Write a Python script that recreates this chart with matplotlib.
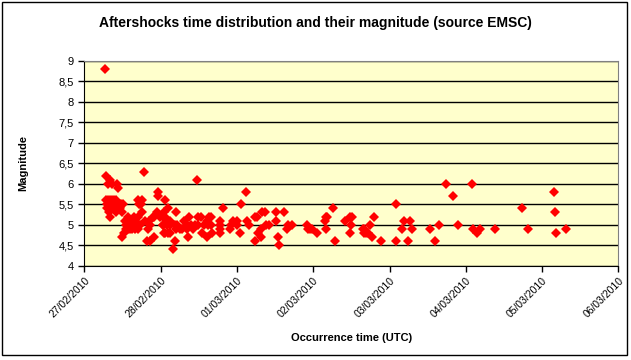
import numpy as np
import matplotlib
matplotlib.use("Agg")
import matplotlib.pyplot as plt
from matplotlib.patches import Rectangle

plt.rcParams['font.family'] = ['Liberation Sans', 'DejaVu Sans']

# days since 27/02/2010 00:00 UTC
day = [0.27, 0.284, 0.307, 0.337, 0.359, 0.425, 0.438,
       0.29, 0.30, 0.30, 0.31, 0.32, 0.33, 0.34, 0.35, 0.36, 0.37, 0.38, 0.39, 0.40,
       0.41, 0.42, 0.43, 0.446, 0.46, 0.468, 0.481, 0.49, 0.337, 0.45, 0.32,
       0.49, 0.524, 0.51,
       0.533, 0.56, 0.54, 0.55, 0.577, 0.585, 0.60, 0.621, 0.63, 0.65, 0.67, 0.68,
       0.70, 0.70, 0.73, 0.60, 0.57, 0.64, 0.66,
       0.708, 0.72, 0.73, 0.752, 0.74, 0.752,
       0.786, 0.796, 0.818, 0.861, 0.917, 0.835, 0.861, 0.85, 0.904, 0.91,
       0.957, 0.962, 0.962, 0.992, 1.031, 1.035, 1.058, 1.101, 1.04, 1.058,
       1.10, 1.123, 1.031, 1.04, 1.06, 1.08, 1.10, 1.123, 1.123,
       1.166, 1.189, 1.189, 1.20, 1.202, 1.22, 1.25, 1.277, 1.307,
       1.342, 1.342, 1.363, 1.376, 1.40, 1.42, 1.451, 1.473,
       1.49, 1.49, 1.526, 1.539, 1.569, 1.604, 1.604, 1.621, 1.634, 1.657, 1.657, 1.67,
       1.778, 1.778, 1.778, 1.778, 1.822, 1.91, 1.923, 1.953, 1.997, 1.997,
       2.041, 2.05, 2.115, 2.128, 2.159, 2.237, 2.26, 2.237, 2.273, 2.312, 2.316,
       2.325, 2.368, 2.377, 2.421, 2.512, 2.512, 2.535, 2.552, 2.613, 2.653, 2.674, 2.718,
       2.915, 2.936, 2.958, 2.98, 3.046, 3.155, 3.17, 3.185, 3.168, 3.256, 3.286,
       3.417, 3.482, 3.505, 3.491, 3.482, 3.649, 3.666, 3.666, 3.692, 3.722,
       3.743, 3.767, 3.796, 3.885, 4.081, 4.081, 4.16, 4.19, 4.269, 4.238, 4.299,
       4.531, 4.596, 4.645, 4.74, 4.828, 4.894, 5.085, 5.09, 5.143, 5.186,
       5.383, 5.733, 5.811, 6.156, 6.169, 6.178, 6.313]

magnitude = [8.8, 6.2, 6.0, 6.1, 6.0, 6.0, 5.9,
             5.6, 5.5, 5.4, 5.6, 5.5, 5.4, 5.6, 5.5, 5.6, 5.4, 5.5, 5.6, 5.5,
             5.3, 5.6, 5.5, 5.5, 5.4, 5.4, 5.5, 5.3, 5.2, 5.4, 5.3,
             4.7, 4.8, 5.5,
             5.1, 5.0, 5.0, 4.9, 5.2, 5.1, 4.9, 5.0, 4.9, 5.2, 5.1, 5.0,
             4.9, 5.2, 5.0, 5.0, 4.9, 5.0, 4.9,
             5.6, 5.5, 5.5, 5.6, 5.5, 5.3,
             6.3, 5.1, 4.6, 4.6, 4.7, 4.9, 5.0, 5.1, 5.2, 5.2,
             5.3, 5.8, 5.7, 5.2, 5.2, 5.0, 5.6, 5.4, 5.3, 5.2,
             5.1, 5.1, 5.0, 4.8, 4.8, 5.0, 4.8, 5.0, 4.8,
             4.4, 4.6, 5.0, 4.9, 5.3, 5.0, 4.9, 4.9, 5.1,
             5.0, 4.9, 4.7, 5.2, 5.0, 4.9, 5.0, 6.1,
             5.2, 5.0, 5.2, 4.8, 5.0, 5.1, 4.7, 5.0, 5.2, 5.2, 5.0, 4.8,
             5.1, 5.0, 4.9, 4.8, 5.4, 4.9, 5.0, 5.1, 5.1, 5.0,
             4.8, 5.5, 5.8, 5.1, 5.0, 5.2, 5.2, 4.6, 4.8, 4.7, 4.9,
             5.3, 5.3, 5.0, 5.0, 5.3, 5.1, 4.7, 4.5, 5.3, 4.9, 5.0, 5.0,
             5.0, 4.9, 4.9, 4.9, 4.8, 5.1, 5.2, 5.2, 4.9, 5.4, 4.6,
             5.1, 5.2, 5.2, 5.0, 4.8, 4.9, 4.9, 4.8, 4.8, 4.8,
             5.0, 4.7, 5.2, 4.6, 5.5, 4.6, 4.9, 5.1, 5.1, 4.6, 4.9,
             4.9, 4.6, 5.0, 6.0, 5.7, 5.0, 6.0, 4.9, 4.8, 4.9,
             4.9, 5.4, 4.9, 5.8, 5.3, 4.8, 4.9]

date_labels = ["27/02/2010", "28/02/2010", "01/03/2010", "02/03/2010",
               "03/03/2010", "04/03/2010", "05/03/2010", "06/03/2010"]
y_ticks = [4, 4.5, 5, 5.5, 6, 6.5, 7, 7.5, 8, 8.5, 9]

fig = plt.figure(figsize=(6.31, 3.60), dpi=100)
ax = fig.add_axes([84.3 / 631, 1 - 265.7 / 360, (618.4 - 84.3) / 631, (265.7 - 61) / 360])
ax.set_facecolor("#FFFFCC")

ax.plot(day, magnitude, "D", color="red", markersize=5.3, markeredgewidth=0, zorder=3)

ax.set_xlim(0, 7)
ax.set_ylim(4, 9)
ax.set_xticks(range(len(date_labels)))
ax.set_xticklabels(date_labels, rotation=45, ha="right", va="top",
                   rotation_mode="anchor", fontsize=7.5)
ax.set_yticks(y_ticks)
ax.set_yticklabels([str(v).replace(".", ",").replace(",0", "") for v in y_ticks], fontsize=8)
ax.tick_params(axis="both", direction="out", length=4, width=1, color="black")
ax.tick_params(axis="x", pad=3)
ax.grid(axis="y", color="black", linewidth=1)
ax.set_axisbelow(True)

for side in ["left", "bottom"]:
    ax.spines[side].set_color("black")
for side in ["top", "right"]:
    ax.spines[side].set_color("#808080")

ax.set_xlabel("Occurrence time (UTC)", fontsize=8, fontweight="bold", labelpad=10)
ax.set_ylabel("Magnitude", fontsize=8, fontweight="bold", labelpad=22)
fig.text(0.5, 1 - 23 / 360, "Aftershocks time distribution and their magnitude (source EMSC)",
         ha="center", va="center", fontsize=10, fontweight="bold")

fig.patches.append(Rectangle((2 / 631, 5 / 360), 625 / 631, 353 / 360, transform=fig.transFigure,
                             fill=False, edgecolor="black", linewidth=1))

fig.savefig("out.png", dpi=100)
